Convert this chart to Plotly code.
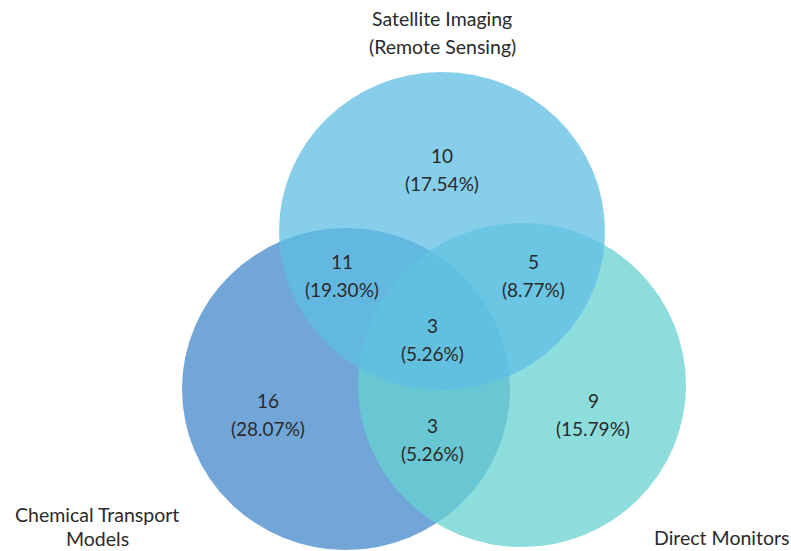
import plotly.graph_objects as go

# Set names and region counts
set_names = [["Satellite Imaging", "(Remote Sensing)"], ["Chemical Transport", "Models"], ["Direct Monitors"]]
region_keys = ["S", "C", "D", "SC", "SD", "CD", "SCD"]
region_counts = [10, 16, 9, 11, 5, 3, 3]

# Circle layout (center x, center y, radius x, radius y) in canvas units
circles = {
    "C": (346, 389, 164, 161),
    "D": (522, 385, 164, 162),
    "S": (442, 231, 163, 159),
}
circle_colors = {"C": "rgb(67,136,203)", "D": "rgb(103,210,210)", "S": "rgb(95,190,228)"}
circle_order = ["C", "D", "S"]

# Position of the count line for each region (percentage sits one line below)
region_pos = {
    "S": (442, 155), "C": (268, 400), "D": (593, 400),
    "SC": (342, 261), "SD": (533, 261), "CD": (432, 425), "SCD": (432, 325),
}
set_label_pos = [(442, 18, 28), (97, 514, 24), (722, 537, 0)]
line_gap = 28

total = sum(region_counts)
font_family = "Lato, 'Open Sans', sans-serif"
text_color = "#2a2a2a"

fig = go.Figure()

for k in circle_order:
    cx, cy, rx, ry = circles[k]
    fig.add_shape(type="circle", xref="x", yref="y",
                  x0=cx - rx, x1=cx + rx, y0=cy - ry, y1=cy + ry,
                  fillcolor=circle_colors[k], opacity=0.75,
                  line=dict(width=0), layer="below")

for key, n in zip(region_keys, region_counts):
    x, y = region_pos[key]
    for i, line in enumerate([f"{n}", f"({n / total * 100:.2f}%)"]):
        fig.add_annotation(x=x, y=y + i * line_gap, xref="x", yref="y", showarrow=False,
                           text=line,
                           font=dict(family=font_family, size=19, color=text_color))

for lines, (x, y, gap) in zip(set_names, set_label_pos):
    for i, line in enumerate(lines):
        fig.add_annotation(x=x, y=y + i * gap, xref="x", yref="y", showarrow=False,
                           text=line, borderpad=0,
                           font=dict(family=font_family, size=19.5, color=text_color))

fig.update_layout(
    width=791, height=551,
    margin=dict(l=0, r=0, t=0, b=0),
    paper_bgcolor="white", plot_bgcolor="white",
    xaxis=dict(range=[0, 791], visible=False, fixedrange=True),
    yaxis=dict(range=[551, 0], visible=False, fixedrange=True),
    showlegend=False,
)

fig.write_html("out.html")
